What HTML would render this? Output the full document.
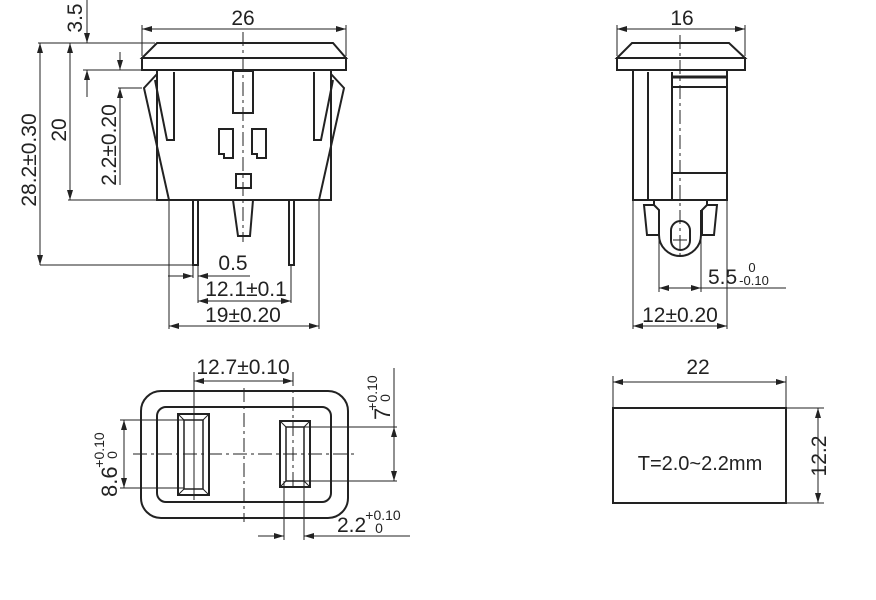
<!DOCTYPE html>
<html><head><meta charset="utf-8"><style>
html,body{margin:0;padding:0;background:#fff;}
svg{display:block;}
text{font-family:"Liberation Sans",Arial,sans-serif;fill:#222;}
</style></head><body>
<svg width="876" height="600" viewBox="0 0 876 600" xmlns="http://www.w3.org/2000/svg">
<defs>
<marker id="a" viewBox="0 0 10 6" refX="10" refY="3" markerWidth="10" markerHeight="6" orient="auto-start-reverse" markerUnits="userSpaceOnUse"><path d="M0,0 L10,3 L0,6 z" fill="#222"/></marker>
</defs>
<g fill="none" stroke="#222">
<g stroke-width="2">
<path d="M157,43 L333,43 L346,58 L142,58 Z"/>
<rect x="142" y="58" width="204" height="12"/>
<path d="M157,70 L157,200 L331,200 L331,70"/>
<path d="M157,74 L144,88 L169,200"/>
<path d="M174,72 L174,140 L167,140 L155,80"/>
<path d="M331,74 L344,88 L319,200"/>
<path d="M314,72 L314,140 L321,140 L333,80"/>
<rect x="233" y="71" width="20" height="42"/>
<path d="M219,129 h14 v29 h-9 v-4 h-5 z"/>
<path d="M252,129 h14 v29 h-9 v-4 h-5 z"/>
<rect x="236" y="174" width="15" height="14"/>
<path d="M233,200 L238,236 L250,236 L253,200"/>
<rect x="193" y="200" width="5" height="65"/>
<rect x="289" y="200" width="5" height="65"/>
</g>
<g stroke-width="1">
<line x1="243" y1="32" x2="243" y2="242" stroke-dasharray="14,4,3,4"/>
<line x1="142" y1="25" x2="142" y2="56"/><line x1="346" y1="25" x2="346" y2="56"/>
<line x1="142" y1="29" x2="346" y2="29" marker-start="url(#a)" marker-end="url(#a)"/>
<line x1="38" y1="43" x2="155" y2="43"/>
<line x1="40" y1="265" x2="193" y2="265"/>
<line x1="40" y1="43" x2="40" y2="265" marker-start="url(#a)" marker-end="url(#a)"/>
<line x1="68" y1="200" x2="157" y2="200"/>
<line x1="70" y1="43" x2="70" y2="200" marker-start="url(#a)" marker-end="url(#a)"/>
<line x1="83" y1="70" x2="142" y2="70"/>
<line x1="87" y1="0" x2="87" y2="43" marker-end="url(#a)"/>
<line x1="87" y1="97" x2="87" y2="70" marker-end="url(#a)"/>
<line x1="118" y1="88" x2="142" y2="88"/>
<line x1="120" y1="52" x2="120" y2="70" marker-end="url(#a)"/>
<line x1="120" y1="185" x2="120" y2="88" marker-end="url(#a)"/>
<line x1="193" y1="265" x2="193" y2="278"/><line x1="198" y1="265" x2="198" y2="303"/>
<line x1="168" y1="276" x2="193" y2="276" marker-end="url(#a)"/>
<line x1="250" y1="276" x2="198" y2="276" marker-end="url(#a)"/>
<line x1="291" y1="265" x2="291" y2="303"/>
<line x1="198" y1="301" x2="291" y2="301" marker-start="url(#a)" marker-end="url(#a)"/>
<line x1="169" y1="200" x2="169" y2="329"/><line x1="319" y1="200" x2="319" y2="329"/>
<line x1="169" y1="326" x2="319" y2="326" marker-start="url(#a)" marker-end="url(#a)"/>
</g>
<g stroke-width="2">
<path d="M632,43 L729,43 L745,58 L617,58 Z"/>
<rect x="617" y="58" width="128" height="12"/>
<rect x="633" y="70" width="94" height="130"/>
<line x1="648" y1="72" x2="648" y2="200"/>
<line x1="672" y1="72" x2="672" y2="200"/>
<line x1="672" y1="77" x2="727" y2="77" stroke-width="3"/>
<line x1="672" y1="87" x2="727" y2="87"/>
<line x1="672" y1="173" x2="727" y2="173"/>
<path d="M654,200 L654,205 L644,205 L647,235 L659,235 L659,210 L654,205"/>
<path d="M707,200 L707,205 L717,205 L714,235 L702,235 L702,210 L707,205"/>
<path d="M659,210 L659,235 A21,21 0 0 0 701,235 L701,210"/>
<rect x="671" y="221" width="19" height="29" rx="9.5"/>
</g>
<g stroke-width="1">
<line x1="680" y1="35" x2="680" y2="260" stroke-dasharray="14,4,3,4"/>
<line x1="673" y1="240" x2="687" y2="240"/>
<line x1="617" y1="25" x2="617" y2="56"/><line x1="745" y1="25" x2="745" y2="56"/>
<line x1="617" y1="29" x2="745" y2="29" marker-start="url(#a)" marker-end="url(#a)"/>
<line x1="659" y1="240" x2="659" y2="292"/><line x1="701" y1="240" x2="701" y2="292"/>
<line x1="659" y1="288" x2="701" y2="288" marker-start="url(#a)" marker-end="url(#a)"/>
<line x1="701" y1="288" x2="786" y2="288"/>
<line x1="633" y1="200" x2="633" y2="329"/><line x1="727" y1="200" x2="727" y2="329"/>
<line x1="633" y1="326" x2="727" y2="326" marker-start="url(#a)" marker-end="url(#a)"/>
</g>
<g stroke-width="2">
<rect x="141" y="391" width="207" height="127" rx="20"/>
<rect x="157" y="407" width="174" height="95" rx="9"/>
<rect x="178" y="414" width="31" height="81"/>
<rect x="184" y="420" width="19" height="69" stroke-width="1.5"/>
<rect x="280" y="421" width="30" height="66"/>
<rect x="286" y="427" width="18" height="54" stroke-width="1.5"/>
</g>
<g stroke-width="1">
<path d="M178,414 L184,420 M209,414 L203,420 M178,495 L184,489 M209,495 L203,489 M280,421 L286,427 M310,421 L304,427 M280,487 L286,481 M310,487 L304,481"/>
<line x1="133" y1="454" x2="356" y2="454" stroke-dasharray="14,4,3,4"/>
<line x1="244" y1="388" x2="244" y2="522" stroke-dasharray="14,4,3,4"/>
<line x1="194" y1="372" x2="194" y2="500"/><line x1="293" y1="372" x2="293" y2="490" stroke-dasharray="14,4,3,4"/>
<line x1="194" y1="381" x2="293" y2="381" marker-start="url(#a)" marker-end="url(#a)"/>
<line x1="120" y1="420" x2="184" y2="420"/><line x1="120" y1="488" x2="184" y2="488"/>
<line x1="124" y1="420" x2="124" y2="488" marker-start="url(#a)" marker-end="url(#a)"/>
<line x1="304" y1="427" x2="397" y2="427"/><line x1="304" y1="481" x2="397" y2="481"/>
<line x1="394" y1="368" x2="394" y2="427"/>
<line x1="394" y1="427" x2="394" y2="481" marker-start="url(#a)" marker-end="url(#a)"/>
<line x1="284" y1="481" x2="284" y2="540"/><line x1="304" y1="481" x2="304" y2="540"/>
<line x1="258" y1="536" x2="284" y2="536" marker-end="url(#a)"/>
<line x1="410" y1="536" x2="304" y2="536" marker-end="url(#a)"/>
</g>
<rect x="613" y="408" width="173" height="95" stroke-width="2"/>
<g stroke-width="1">
<line x1="613" y1="376" x2="613" y2="407"/><line x1="786" y1="376" x2="786" y2="407"/>
<line x1="613" y1="382" x2="786" y2="382" marker-start="url(#a)" marker-end="url(#a)"/>
<line x1="786" y1="408" x2="824" y2="408"/><line x1="786" y1="503" x2="824" y2="503"/>
<line x1="818" y1="408" x2="818" y2="503" marker-start="url(#a)" marker-end="url(#a)"/>
</g>
</g>
<g font-size="21" text-anchor="middle">
<text x="243" y="25">26</text>
<text x="682" y="25">16</text>
<text x="233" y="270">0.5</text>
<text x="246" y="296">12.1±0.1</text>
<text x="243" y="322">19±0.20</text>
<text x="680" y="322">12±0.20</text>
<text x="243" y="374">12.7±0.10</text>
<text x="698" y="374">22</text>
<text x="700" y="470" font-size="20">T=2.0~2.2mm</text>
<text transform="translate(36,160) rotate(-90)">28.2±0.30</text>
<text transform="translate(66,130) rotate(-90)">20</text>
<text transform="translate(82,18) rotate(-90)">3.5</text>
<text transform="translate(116,145) rotate(-90)">2.2±0.20</text>
<text transform="translate(826,456) rotate(-90)">12.2</text>
</g>
<text x="708" y="284" font-size="21">5.5</text>
<text x="752" y="272" font-size="13" text-anchor="middle">0</text>
<text x="754" y="285" font-size="13" text-anchor="middle">-0.10</text>
<text x="337" y="532" font-size="21">2.2</text>
<text x="383" y="520" font-size="14" text-anchor="middle">+0.10</text>
<text x="379" y="533" font-size="14" text-anchor="middle">0</text>
<g transform="translate(390,420) rotate(-90)">
<text x="0" y="0" font-size="22">7</text>
<text x="27" y="-13" font-size="14" text-anchor="middle">+0.10</text>
<text x="22" y="0" font-size="14" text-anchor="middle">0</text>
</g>
<g transform="translate(117,497) rotate(-90)">
<text x="0" y="0" font-size="22">8.6</text>
<text x="47" y="-13" font-size="14" text-anchor="middle">+0.10</text>
<text x="42" y="0" font-size="14" text-anchor="middle">0</text>
</g>
</svg>
</body></html>
